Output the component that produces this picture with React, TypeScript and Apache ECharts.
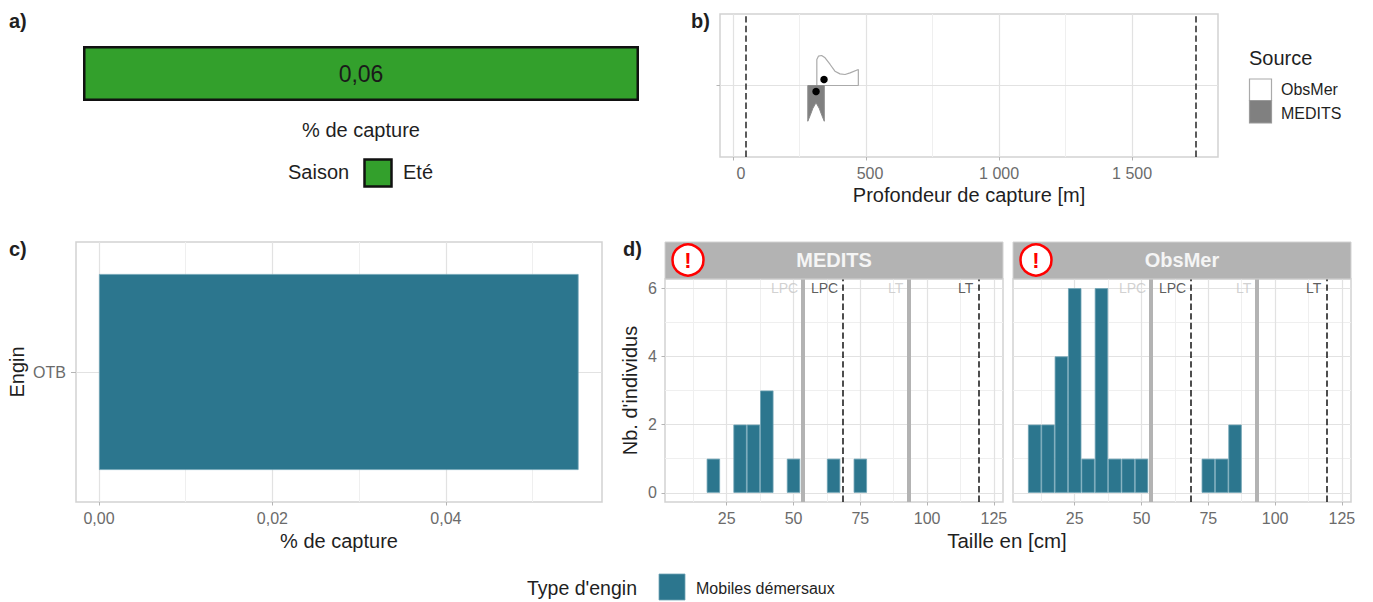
import React, { useEffect, useRef } from "react";
import * as echarts from "echarts";

const FONT = "Liberation Sans";
const BAR = "#2c768e";
const BAR_EDGE = "#6fa3b5";
const GRID_MAJOR = "#e2e2e2";
const GRID_MINOR = "#efefef";
const FRAME = "#d2d2d2";
const TICK_TEXT = "#6b6b6b";
const TITLE_TEXT = "#1f1f1f";

// a) season
const seasonLabel = "Eté";
const seasonValue = 0.06;

// b) depth
const depthTicks = [0, 500, 1000, 1500];
const depthMinor = [250, 750, 1250];
const depthLimits = [47, 1740];
const obsMerViolin = [[315, 0], [315, 0.364], [321, 0.41], [333, 0.42], [346, 0.387], [365, 0.294], [383, 0.2], [402, 0.163], [421, 0.154], [440, 0.177], [471, 0.224], [471, 0], [315, 0]];
const meditsViolin = [[281, 0], [281, -0.5], [290, -0.42], [300, -0.32], [312, -0.24], [324, -0.32], [334, -0.42], [343, -0.5], [343, 0], [281, 0]];
const depthMeans = [[342, 0.084], [312, -0.084]];

// c) gear
const gearCategories = ["OTB"];
const gearValues = [0.0553];
const gearTicks = [0, 0.02, 0.04];
const gearMinor = [0.01, 0.03, 0.05];

// d) sizes
const sizeTicks = [25, 50, 75, 100, 125];
const sizeMinor = [12.5, 37.5, 62.5, 87.5, 112.5];
const countTicks = [0, 2, 4, 6];
const countMinor = [1, 3, 5];
const meditsSizes = [[20, 1], [30, 2], [35, 2], [40, 3], [50, 1], [65, 1], [75, 1]];
const obsMerSizes = [[10, 2], [15, 2], [20, 4], [25, 6], [30, 1], [35, 6], [40, 1], [45, 1], [50, 1], [75, 1], [80, 1], [85, 2]];
const observedLimits = [{ x: 53.6, name: "LPC" }, { x: 93, name: "LT" }];
const referenceLimits = [{ x: 68.6, name: "LPC" }, { x: 119.2, name: "LT" }];

const text = (x: number, y: number, t: string, fontSize: number, extra: any = {}) => ({
  type: "text", x, y, z: 50,
  rotation: extra.rotation ?? 0,
  style: {
    text: t, fontFamily: FONT, fontSize, fill: extra.fill ?? TITLE_TEXT,
    fontWeight: extra.fontWeight ?? "normal",
    textAlign: extra.align ?? "left", textVerticalAlign: "middle",
  },
});
const box = (x: number, y: number, w: number, h: number, fill: string, stroke: string, lineWidth = 1.5) => ({
  type: "rect", z: 40, shape: { x, y, width: w, height: h }, style: { fill, stroke, lineWidth },
});
const alert = (x: number, y: number) => [
  { type: "circle", z: 60, shape: { cx: x, cy: y, r: 15.5 }, style: { fill: "#ffffff", stroke: "#ff0000", lineWidth: 2.5 } },
  { ...text(x, y, "!", 22, { fill: "#ff0000", fontWeight: "bold", align: "center" }), z: 61 },
];

const guides = (i: number, xMajor: any[], xMinor: any[], yMajor: any[], yMinor: any[]) => ({
  type: "line", xAxisIndex: i, yAxisIndex: i, data: [], z: 1, silent: true,
  markLine: {
    z: 1, silent: true, symbol: ["none", "none"], label: { show: false }, animation: false,
    data: [
      ...xMinor.map((v) => ({ xAxis: v, lineStyle: { color: GRID_MINOR, width: 1, type: "solid" } })),
      ...yMinor.map((v) => ({ yAxis: v, lineStyle: { color: GRID_MINOR, width: 1, type: "solid" } })),
      ...xMajor.map((v) => ({ xAxis: v, lineStyle: { color: GRID_MAJOR, width: 1.2, type: "solid" } })),
      ...yMajor.map((v) => ({ yAxis: v, lineStyle: { color: GRID_MAJOR, width: 1.2, type: "solid" } })),
    ],
  },
});
const vLines = (i: number, xs: number[], color: string, width: number, type: string, z: number) => ({
  type: "line", xAxisIndex: i, yAxisIndex: i, data: [], z, silent: true,
  markLine: {
    z, silent: true, symbol: ["none", "none"], label: { show: false }, animation: false,
    lineStyle: { color, width, type },
    data: xs.map((v) => ({ xAxis: v })),
  },
});
const limitLabels = (i: number, limits: { x: number; name: string }[], color: string) => ({
  type: "scatter", xAxisIndex: i, yAxisIndex: i, z: 6, symbolSize: 0, silent: true,
  data: limits.map((l) => ({ value: [l.x, 6], name: l.name })),
  label: { show: true, position: "left", distance: 5, formatter: "{b}", color, fontFamily: FONT, fontSize: 14 },
});
const hist = (i: number, data: number[][]) => ({
  type: "bar", xAxisIndex: i, yAxisIndex: i, z: 3, barWidth: 13.36, data,
  itemStyle: { color: BAR, borderColor: BAR_EDGE, borderWidth: 0.8 },
});
const ticks = (values: number[]) => ({ show: true, length: 3.5, customValues: values, lineStyle: { color: "#b5b5b5", width: 1 } });
const labelStyle = { color: TICK_TEXT, fontFamily: FONT, fontSize: 16, margin: 8 };
const nameStyle = { color: TITLE_TEXT, fontFamily: FONT, fontSize: 20 };
const noLine = { show: false, onZero: false };
const frame = { show: true, borderColor: FRAME, borderWidth: 1.5, backgroundColor: "#ffffff" };

const SIZE_MIN = 1.9;
const SIZE_MAX = 128.4;
const sizeX = (gridIndex: number) => ({
  type: "value", gridIndex, min: SIZE_MIN, max: SIZE_MAX, splitLine: { show: false }, axisLine: noLine,
  axisTick: ticks(sizeTicks), axisLabel: { ...labelStyle, customValues: sizeTicks },
});

const options: any = {
  animation: false,
  backgroundColor: "#ffffff",
  textStyle: { fontFamily: FONT },
  grid: [
    { left: 83, top: 46, width: 556, height: 55 },
    { left: 720, top: 14, width: 498, height: 143, ...frame },
    { left: 76, top: 242, width: 526, height: 260, ...frame },
    { left: 665, top: 279, width: 338, height: 223, ...frame },
    { left: 1013, top: 279, width: 338, height: 223, ...frame },
  ],
  xAxis: [
    {
      type: "value", gridIndex: 0, min: 0, max: 0.06, splitLine: { show: false }, axisLine: noLine,
      axisTick: { show: false }, axisLabel: { show: false },
      name: "% de capture", nameLocation: "middle", nameGap: 19, nameTextStyle: nameStyle,
    },
    {
      type: "value", gridIndex: 1, min: -49, max: 1823, splitLine: { show: false }, axisLine: noLine,
      axisTick: ticks(depthTicks),
      axisLabel: {
        ...labelStyle, customValues: depthTicks,
        formatter: (v: number) =>
          v === 0 ? "{a|0}" : v === 500 ? "{b|500}" : String(v).replace(/(\d)(\d{3})$/, "$1 $2"),
        rich: {
          a: { padding: [0, 0, 0, 16], color: TICK_TEXT, fontFamily: FONT, fontSize: 16 },
          b: { padding: [0, 0, 0, 8], color: TICK_TEXT, fontFamily: FONT, fontSize: 16 },
        },
      },
      name: "Profondeur de capture [m]", nameLocation: "middle", nameGap: 28, nameTextStyle: nameStyle,
    },
    {
      type: "value", gridIndex: 2, min: -0.00265, max: 0.058, splitLine: { show: false }, axisLine: noLine,
      axisTick: ticks(gearTicks),
      axisLabel: { ...labelStyle, customValues: gearTicks, formatter: (v: number) => v.toFixed(2).replace(".", ",") },
      name: "% de capture", nameLocation: "middle", nameGap: 29, nameTextStyle: nameStyle,
    },
    sizeX(3),
    sizeX(4),
  ],
  yAxis: [
    { type: "category", gridIndex: 0, data: [seasonLabel], show: false },
    {
      type: "value", gridIndex: 1, min: -1, max: 1, splitLine: { show: false }, axisLine: noLine,
      axisTick: ticks([0]), axisLabel: { show: false },
    },
    {
      type: "category", gridIndex: 2, data: gearCategories, axisLine: noLine,
      axisTick: { show: true, length: 5, alignWithLabel: true, lineStyle: { color: "#b5b5b5" } },
      axisLabel: { color: TICK_TEXT, fontFamily: FONT, fontSize: 16, margin: 10 },
      name: "Engin", nameLocation: "middle", nameGap: 49, nameTextStyle: nameStyle,
    },
    {
      type: "value", gridIndex: 3, min: -0.27, max: 6.27, splitLine: { show: false }, axisLine: noLine,
      axisTick: ticks(countTicks), axisLabel: { ...labelStyle, customValues: countTicks },
      name: "Nb. d'individus", nameLocation: "middle", nameGap: 25, nameTextStyle: nameStyle,
    },
    {
      type: "value", gridIndex: 4, min: -0.27, max: 6.27, splitLine: { show: false }, axisLine: noLine,
      axisTick: { show: false }, axisLabel: { show: false },
    },
  ],
  series: [
    {
      type: "bar", xAxisIndex: 0, yAxisIndex: 0, barWidth: "100%", data: [seasonValue], z: 3,
      itemStyle: { color: "#33a02c", borderColor: "#111111", borderWidth: 2.5 },
      label: { show: true, position: "inside", formatter: (p: any) => p.value.toFixed(2).replace(".", ","), color: "#1a1a1a", fontFamily: FONT, fontSize: 23 },
    },
    guides(1, depthTicks, depthMinor, [0], []),
    {
      type: "line", xAxisIndex: 1, yAxisIndex: 1, z: 3, data: obsMerViolin, showSymbol: false, symbol: "none", silent: true,
      lineStyle: { color: "#aaaaaa", width: 1.2 }, areaStyle: { color: "#ffffff", opacity: 1 },
    },
    {
      type: "line", xAxisIndex: 1, yAxisIndex: 1, z: 3, data: meditsViolin, showSymbol: false, symbol: "none", silent: true,
      lineStyle: { color: "#8c8c8c", width: 1 }, areaStyle: { color: "#808080", opacity: 1 },
    },
    { type: "scatter", xAxisIndex: 1, yAxisIndex: 1, z: 4, data: depthMeans, symbolSize: 7.5, itemStyle: { color: "#000000", opacity: 1 } },
    vLines(1, depthLimits, "#333333", 1.6, "dashed", 5),
    guides(2, gearTicks, gearMinor, gearCategories, []),
    {
      type: "bar", xAxisIndex: 2, yAxisIndex: 2, z: 3, barWidth: 196, data: gearValues,
      itemStyle: { color: BAR, borderColor: BAR_EDGE, borderWidth: 0.8 },
    },
    guides(3, sizeTicks, sizeMinor, countTicks, countMinor),
    hist(3, meditsSizes),
    vLines(3, observedLimits.map((l) => l.x), "#b3b3b3", 4, "solid", 4),
    vLines(3, referenceLimits.map((l) => l.x), "#222222", 1.6, "dashed", 5),
    limitLabels(3, observedLimits, "#c6c6c6"),
    limitLabels(3, referenceLimits, "#333333"),
    guides(4, sizeTicks, sizeMinor, countTicks, countMinor),
    hist(4, obsMerSizes),
    vLines(4, observedLimits.map((l) => l.x), "#b3b3b3", 4, "solid", 4),
    vLines(4, referenceLimits.map((l) => l.x), "#222222", 1.6, "dashed", 5),
    limitLabels(4, observedLimits, "#c6c6c6"),
    limitLabels(4, referenceLimits, "#333333"),
  ],
  graphic: [
    text(9, 21, "a)", 20, { fontWeight: "bold" }),
    text(691, 21, "b)", 20, { fontWeight: "bold" }),
    text(9, 249, "c)", 20, { fontWeight: "bold" }),
    text(623, 249, "d)", 20, { fontWeight: "bold" }),
    text(288, 172, "Saison", 20),
    box(364.5, 159.5, 27, 27, "#33a02c", "#111111", 2.5),
    text(403, 172, seasonLabel, 20),
    text(1249, 58, "Source", 20),
    box(1249.5, 79, 22, 21.5, "#ffffff", "#aaaaaa", 1.2),
    box(1249.5, 100.5, 22, 22.5, "#808080", "#9a9a9a", 1.2),
    text(1281, 89, "ObsMer", 16),
    text(1281, 113, "MEDITS", 16),
    box(665, 242, 338, 37, "#b3b3b3", "#d2d2d2", 1),
    box(1013, 242, 338, 37, "#b3b3b3", "#d2d2d2", 1),
    text(834, 260, "MEDITS", 20, { fill: "#f5f5f5", fontWeight: "bold", align: "center" }),
    text(1182, 260, "ObsMer", 20, { fill: "#f5f5f5", fontWeight: "bold", align: "center" }),
    ...alert(688, 260),
    ...alert(1036, 260),
    text(1007, 540, "Taille en [cm]", 20.5, { align: "center" }),
    text(527, 588, "Type d'engin", 19.5),
    box(659, 574, 26, 26, BAR, BAR_EDGE, 0.8),
    text(696, 588, "Mobiles démersaux", 16),
  ],
};

export default function App() {
  const ref = useRef<HTMLDivElement>(null);
  useEffect(() => {
    const chart = echarts.init(ref.current!, undefined, { renderer: "svg" });
    chart.setOption(options);
    return () => chart.dispose();
  }, []);
  return <div ref={ref} style={{ position: "absolute", left: 0, top: 0, width: 1373, height: 602 }} />;
}
